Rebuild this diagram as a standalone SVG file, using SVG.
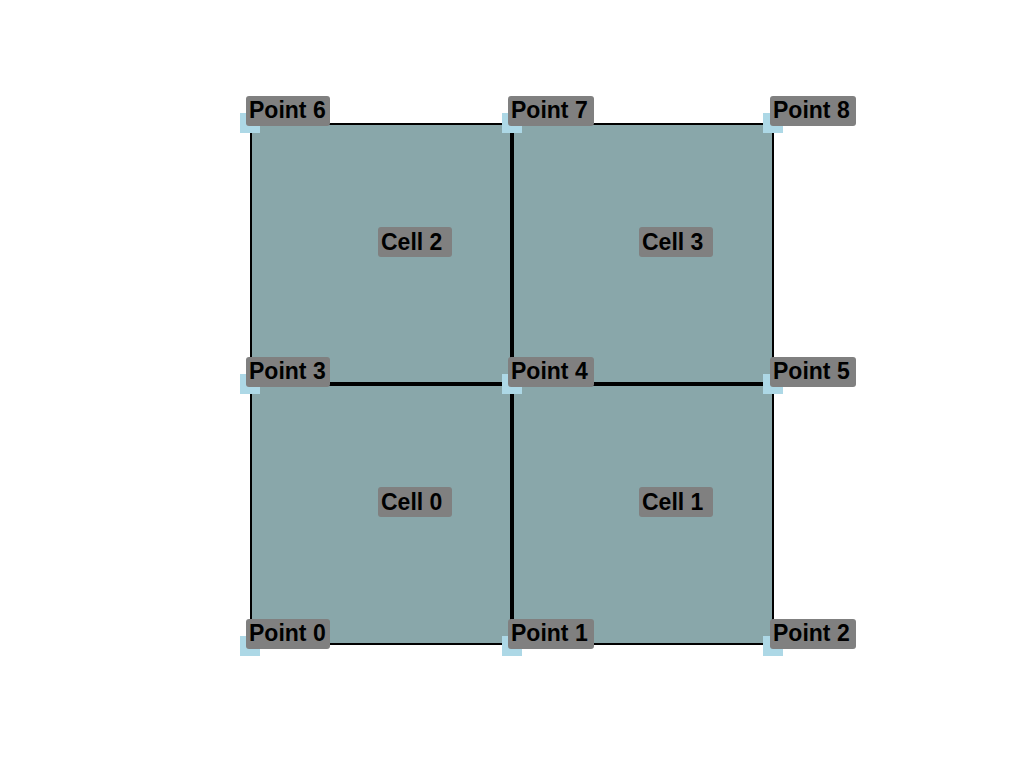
<svg xmlns="http://www.w3.org/2000/svg" width="1024" height="768" viewBox="0 0 1024 768">
<style>
.pt{fill:#add8e6}
.cell{fill:#89a7aa;stroke:#000;stroke-width:2}
.lb{fill:#808080}
.tx{font-family:"Liberation Sans",Arial,sans-serif;font-weight:bold;font-size:23px;fill:#000}
</style>
<rect width="1024" height="768" fill="#fff"/>
<g id="cells">
<rect id="cell0" class="cell" x="251" y="384" width="261" height="260"/>
<rect id="cell1" class="cell" x="512" y="384" width="261" height="260"/>
<rect id="cell2" class="cell" x="251" y="124" width="261" height="260"/>
<rect id="cell3" class="cell" x="512" y="124" width="261" height="260"/>
</g>
<g id="connectors" stroke="#000" stroke-width="4">
<line x1="512" y1="124" x2="512" y2="644"/>
<line x1="251" y1="384" x2="773" y2="384"/>
</g>
<g id="markers">
<rect class="pt" x="240" y="113" width="20" height="20"/>
<rect class="pt" x="502" y="113" width="20" height="20"/>
<rect class="pt" x="763" y="113" width="20" height="20"/>
<rect class="pt" x="240" y="374" width="20" height="20"/>
<rect class="pt" x="502" y="374" width="20" height="20"/>
<rect class="pt" x="763" y="374" width="20" height="20"/>
<rect class="pt" x="240" y="636" width="20" height="20"/>
<rect class="pt" x="502" y="636" width="20" height="20"/>
<rect class="pt" x="763" y="636" width="20" height="20"/>
</g>
<g id="cell-labels">
<g id="lbl-cell2"><rect class="lb" x="378" y="227" width="74" height="30" rx="3"/><text class="tx" x="381" y="250">Cell 2</text></g>
<g id="lbl-cell3"><rect class="lb" x="639" y="227" width="74" height="30" rx="3"/><text class="tx" x="642" y="250">Cell 3</text></g>
<g id="lbl-cell0"><rect class="lb" x="378" y="487" width="74" height="30" rx="3"/><text class="tx" x="381" y="510">Cell 0</text></g>
<g id="lbl-cell1"><rect class="lb" x="639" y="487" width="74" height="30" rx="3"/><text class="tx" x="642" y="510">Cell 1</text></g>
</g>
<g id="point-labels">
<g id="p6"><rect class="lb" x="246" y="96" width="84" height="30" rx="3"/><text class="tx" x="249" y="118">Point 6</text></g>
<g id="p7"><rect class="lb" x="508" y="96" width="86" height="30" rx="3"/><text class="tx" x="511" y="118">Point 7</text></g>
<g id="p8"><rect class="lb" x="770" y="96" width="86" height="30" rx="3"/><text class="tx" x="773" y="118">Point 8</text></g>
<g id="p3"><rect class="lb" x="246" y="357" width="84" height="30" rx="3"/><text class="tx" x="249" y="379">Point 3</text></g>
<g id="p4"><rect class="lb" x="508" y="357" width="86" height="30" rx="3"/><text class="tx" x="511" y="379">Point 4</text></g>
<g id="p5"><rect class="lb" x="770" y="357" width="86" height="30" rx="3"/><text class="tx" x="773" y="379">Point 5</text></g>
<g id="p0"><rect class="lb" x="246" y="619" width="84" height="30" rx="3"/><text class="tx" x="249" y="641">Point 0</text></g>
<g id="p1"><rect class="lb" x="508" y="619" width="86" height="30" rx="3"/><text class="tx" x="511" y="641">Point 1</text></g>
<g id="p2"><rect class="lb" x="770" y="619" width="86" height="30" rx="3"/><text class="tx" x="773" y="641">Point 2</text></g>
</g>
</svg>
